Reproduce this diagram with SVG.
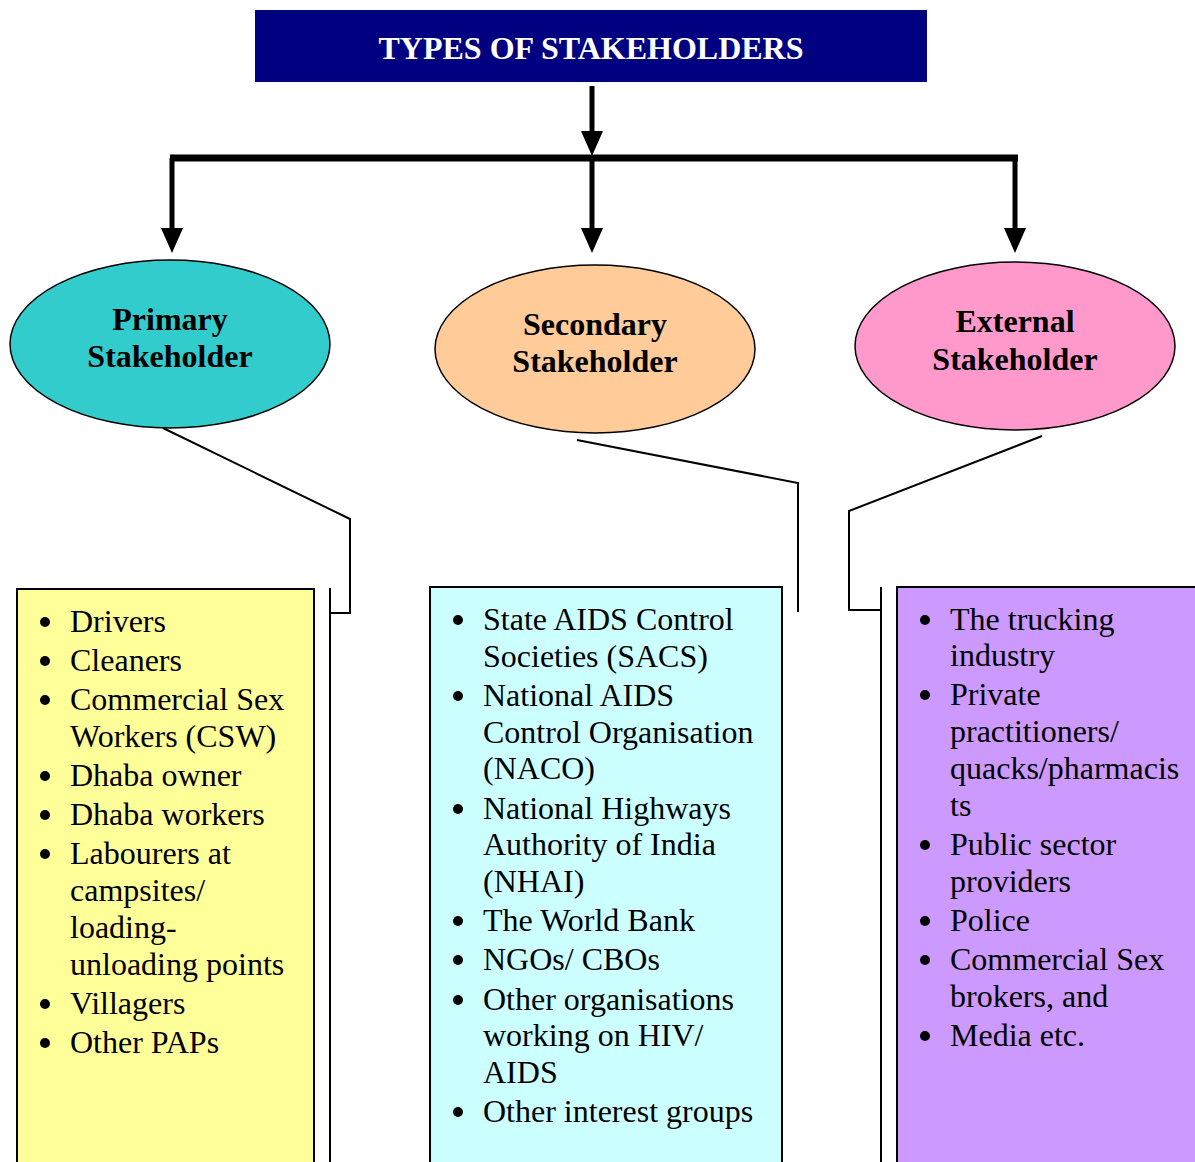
<svg xmlns="http://www.w3.org/2000/svg" width="1195" height="1162" viewBox="0 0 1195 1162">
<style>
.t{font-family:"Liberation Serif","Times New Roman",serif;font-size:32px;fill:#000}
.h{font-family:"Liberation Serif","Times New Roman",serif;font-size:32px;font-weight:bold;fill:#000;text-anchor:middle}
.ttl{font-family:"Liberation Serif","Times New Roman",serif;font-size:32px;font-weight:bold;fill:#fff;text-anchor:middle}
.thin{fill:none;stroke:#000;stroke-width:2}
.thick{fill:none;stroke:#000;stroke-width:5}
.box{stroke:#000;stroke-width:2}
.ell{stroke:#000;stroke-width:1.5}
</style>
<g id="title">
<rect x="255" y="10" width="672" height="72" fill="#000080"/>
<text class="ttl" x="591" y="59">TYPES OF STAKEHOLDERS</text>
</g>
<g id="connectors">
<line class="thick" x1="592" y1="86" x2="592" y2="131"/>
<path d="M581,131 L603,131 L592,156 Z" fill="#000"/>
<line x1="170" y1="158" x2="1018" y2="158" stroke="#000" stroke-width="7"/>
<line class="thick" x1="172" y1="158" x2="172" y2="228"/>
<path d="M161,228 L183,228 L172,253 Z" fill="#000"/>
<line class="thick" x1="592" y1="158" x2="592" y2="228"/>
<path d="M581,228 L603,228 L592,253 Z" fill="#000"/>
<line class="thick" x1="1015" y1="158" x2="1015" y2="228"/>
<path d="M1004,228 L1026,228 L1015,253 Z" fill="#000"/>
<polyline class="thin" points="163,428 350,519 350,613 330,613"/>
<line class="thin" x1="330" y1="588" x2="330" y2="1162"/>
<polyline class="thin" points="577,440 798,483 798,612"/>
<polyline class="thin" points="1042,436 849,511 849,610 881,610"/>
<line class="thin" x1="881" y1="587" x2="881" y2="1162"/>
</g>
<g id="primary">
<ellipse class="ell" cx="170" cy="344" rx="160" ry="84" fill="#33CCCC"/>
<text class="h" x="170" y="330">Primary</text>
<text class="h" x="170" y="367">Stakeholder</text>
</g>
<g id="secondary">
<ellipse class="ell" cx="595" cy="349" rx="160" ry="84" fill="#FFCC99"/>
<text class="h" x="595" y="335">Secondary</text>
<text class="h" x="595" y="372">Stakeholder</text>
</g>
<g id="external">
<ellipse class="ell" cx="1015" cy="346" rx="160" ry="84" fill="#FF99CC"/>
<text class="h" x="1015" y="332">External</text>
<text class="h" x="1015" y="370">Stakeholder</text>
</g>
<g id="primary-list">
<rect class="box" x="17" y="589" width="297" height="580" fill="#FFFF99"/>
<g fill="#000">
<circle cx="45" cy="622" r="5"/><circle cx="45" cy="661" r="5"/><circle cx="45" cy="700" r="5"/>
<circle cx="45" cy="776" r="5"/><circle cx="45" cy="815" r="5"/><circle cx="45" cy="854" r="5"/>
<circle cx="45" cy="1004" r="5"/><circle cx="45" cy="1043" r="5"/>
</g>
<text class="t" x="70" y="632">Drivers</text>
<text class="t" x="70" y="671">Cleaners</text>
<text class="t" x="70" y="710">Commercial Sex</text>
<text class="t" x="70" y="747">Workers (CSW)</text>
<text class="t" x="70" y="786">Dhaba owner</text>
<text class="t" x="70" y="825">Dhaba workers</text>
<text class="t" x="70" y="864">Labourers at</text>
<text class="t" x="70" y="901">campsites/</text>
<text class="t" x="70" y="938">loading-</text>
<text class="t" x="70" y="975">unloading points</text>
<text class="t" x="70" y="1014">Villagers</text>
<text class="t" x="70" y="1053">Other PAPs</text>
</g>
<g id="secondary-list">
<rect class="box" x="430" y="587" width="352" height="582" fill="#CCFFFF"/>
<g fill="#000">
<circle cx="458" cy="620" r="5"/><circle cx="458" cy="696" r="5"/><circle cx="458" cy="809" r="5"/>
<circle cx="458" cy="921" r="5"/><circle cx="458" cy="960" r="5"/><circle cx="458" cy="1000" r="5"/>
<circle cx="458" cy="1112" r="5"/>
</g>
<text class="t" x="483" y="630">State AIDS Control</text>
<text class="t" x="483" y="667">Societies (SACS)</text>
<text class="t" x="483" y="706">National AIDS</text>
<text class="t" x="483" y="743">Control Organisation</text>
<text class="t" x="483" y="779">(NACO)</text>
<text class="t" x="483" y="819">National Highways</text>
<text class="t" x="483" y="855">Authority of India</text>
<text class="t" x="483" y="892">(NHAI)</text>
<text class="t" x="483" y="931">The World Bank</text>
<text class="t" x="483" y="970">NGOs/ CBOs</text>
<text class="t" x="483" y="1010">Other organisations</text>
<text class="t" x="483" y="1046">working on HIV/</text>
<text class="t" x="483" y="1083">AIDS</text>
<text class="t" x="483" y="1122">Other interest groups</text>
</g>
<g id="external-list">
<rect class="box" x="897" y="587" width="310" height="582" fill="#CC99FF"/>
<g fill="#000">
<circle cx="925" cy="620" r="5"/><circle cx="925" cy="695" r="5"/><circle cx="925" cy="845" r="5"/>
<circle cx="925" cy="921" r="5"/><circle cx="925" cy="960" r="5"/><circle cx="925" cy="1036" r="5"/>
</g>
<text class="t" x="950" y="630">The trucking</text>
<text class="t" x="950" y="666">industry</text>
<text class="t" x="950" y="705">Private</text>
<text class="t" x="950" y="742">practitioners/</text>
<text class="t" x="950" y="779">quacks/pharmacis</text>
<text class="t" x="950" y="816">ts</text>
<text class="t" x="950" y="855">Public sector</text>
<text class="t" x="950" y="892">providers</text>
<text class="t" x="950" y="931">Police</text>
<text class="t" x="950" y="970">Commercial Sex</text>
<text class="t" x="950" y="1007">brokers, and</text>
<text class="t" x="950" y="1046">Media etc.</text>
</g>
</svg>
